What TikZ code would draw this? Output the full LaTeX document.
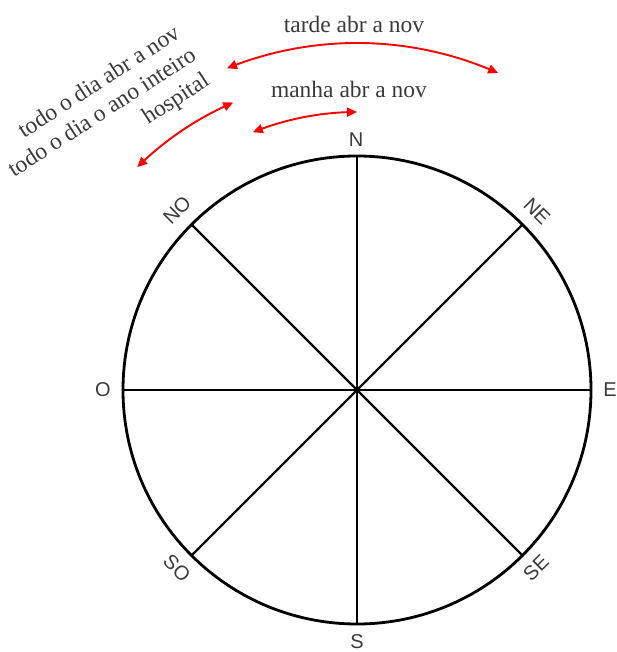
\documentclass[tikz,border=0pt]{standalone}
\usepackage{fontspec}
\setmainfont{Liberation Serif}
\newfontfamily\arialf{Liberation Sans}
\usetikzlibrary{arrows.meta,bending}
\definecolor{txtgray}{HTML}{3A3A3A}
\tikzset{
  compass/.style={font=\arialf\fontsize{20}{24}\selectfont, text=txtgray, inner sep=0pt},
  serifl/.style={font=\fontsize{23.5}{27}\selectfont, text=txtgray, inner sep=0pt},
  rim/.style={line width=2.8pt, black},
  spoke/.style={line width=2.3pt, black},
  redarr/.style={red, line width=1.9pt, {Triangle[length=10pt,width=9pt,bend]}-{Triangle[length=10pt,width=9pt,bend]}},
}
\begin{document}
\begin{tikzpicture}[x=1pt,y=1pt]
\useasboundingbox (0,0) rectangle (616,652);
\coordinate (c) at (357,262);
\draw[rim] (c) circle[radius=234pt];
% rim points
\foreach \a/\n in {90/pN,270/pS,0/pE,180/pO,45/pNE,225/pSO,135/pNO,315/pSE}{
  \path (c) ++(\a:234pt) coordinate (\n);
}
\draw[spoke] (pN) -- (pS);
\draw[spoke] (pO) -- (pE);
\draw[spoke] (pNO) -- (pSE);
\draw[spoke] (pNE) -- (pSO);
% compass labels
\node[compass] (lN) at (356,512.5) {N};
\node[compass] (lS) at (357,10) {S};
\node[compass] (lO) at (103,262) {O};
\node[compass] (lE) at (610,262) {E};
\node[compass, rotate=45] (lNO) at (177,442) {NO};
\node[compass, rotate=-45] (lNE) at (537,441) {NE};
\node[compass, rotate=-45] (lSO) at (177,84) {SO};
\node[compass, rotate=45] (lSE) at (536,84) {SE};
% red arcs
\path (c) ++(112:347pt) coordinate (t1);
\draw[redarr] (t1) arc[start angle=112, end angle=66, radius=347pt];
\path (c) ++(112:278pt) coordinate (m1);
\draw[redarr] (m1) arc[start angle=112, end angle=90, radius=278pt];
\path (c) ++(113.3:313pt) coordinate (h1);
\draw[redarr] (h1) arc[start angle=113.3, end angle=134.6, radius=313pt];
% texts
\node[serifl, anchor=base] (tt) at (354,619) {tarde abr a nov};
\node[serifl, anchor=base] (tm) at (349,554) {manha abr a nov};
\node[serifl, anchor=base west, rotate=33] (l1) at (24,513) {todo o dia abr a nov};
\node[serifl, anchor=base west, rotate=33] (l2) at (14,474) {todo o dia o ano inteiro};
\node[serifl, anchor=base west, rotate=33] (l3) at (148,527) {hospital};
\end{tikzpicture}
\end{document}
